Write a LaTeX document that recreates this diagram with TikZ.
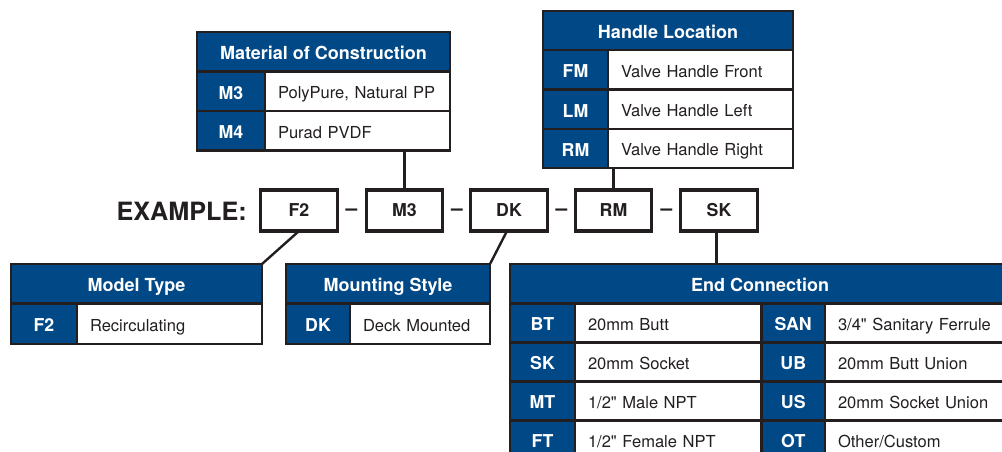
\documentclass[tikz,border=0pt]{standalone}
\usepackage{fontspec}
\setmainfont{TeX Gyre Heros}
\definecolor{nblue}{RGB}{0,72,134}
\definecolor{bord}{RGB}{35,31,32}
\tikzset{
 tbl/.style={draw=bord, line width=2pt, inner sep=0pt, outer sep=0pt},
 hdr/.style={tbl, fill=nblue, text=white, font=\bfseries\fontsize{13.5}{16}\selectfont, text height=11.7pt, text depth=0pt},
 code/.style={tbl, fill=nblue, text=white, font=\bfseries\fontsize{13.3}{16}\selectfont, text height=11.7pt, text depth=0pt},
 desc/.style={tbl, fill=white, text=bord, font=\fontsize{12.4}{15}\selectfont, text height=11pt, text depth=0pt, align=left},
 exbox/.style={draw=bord, line width=2.3pt, inner sep=0pt, outer sep=0pt, font=\bfseries\fontsize{13.3}{16}\selectfont, text=bord, text height=9.5pt, text depth=0pt, minimum width=57.5pt, minimum height=30.75pt},
 dashtxt/.style={inner sep=0pt, text=bord, font=\bfseries\fontsize{15.8}{18}\selectfont},
 conn/.style={draw=bord, line width=1.8pt},
}
\newcommand\tcell[7]{%
 \pgfmathsetlengthmacro\cw{(#4-#2)*0.75pt}%
 \pgfmathsetlengthmacro\ch{(#5-#3)*0.75pt}%
 \node[#6, minimum width=\cw, minimum height=\ch] (#1) at ({(#2+#4)/2},{(#3+#5)/2}) {#7};}
\newcommand\tdcell[6]{%
 \pgfmathsetlengthmacro\cw{(#4-#2)*0.75pt}%
 \pgfmathsetlengthmacro\ch{(#5-#3)*0.75pt}%
 \pgfmathsetlengthmacro\tw{(#4-#2-26)*0.75pt}%
 \node[desc, text width=\tw, inner xsep=9.75pt, minimum width=\cw, minimum height=\ch] (#1) at ({(#2+#4)/2},{(#3+#5)/2}) {#6};}
\begin{document}
\begin{tikzpicture}[x=0.75pt, y=-0.75pt]
\useasboundingbox (0,0) rectangle (1002,451);
\clip (0,0) rectangle (1002,451);

% Material of Construction
\tcell{matH}{197}{32}{450}{71.5}{hdr}{Material of Construction}
\tcell{matC1}{197}{71.5}{265}{111}{code}{M3}
\tdcell{matD1}{265}{71.5}{450}{111}{PolyPure, Natural PP}
\tcell{matC2}{197}{111}{265}{150.5}{code}{M4}
\tdcell{matD2}{265}{111}{450}{150.5}{Purad PVDF}

% Handle Location
\tcell{hlH}{543}{11}{793}{50}{hdr}{Handle Location}
\tcell{hlC1}{543}{50}{608}{89.5}{code}{FM}
\tdcell{hlD1}{608}{50}{793}{89.5}{Valve Handle Front}
\tcell{hlC2}{543}{89.5}{608}{129}{code}{LM}
\tdcell{hlD2}{608}{89.5}{793}{129}{Valve Handle Left}
\tcell{hlC3}{543}{129}{608}{168}{code}{RM}
\tdcell{hlD3}{608}{129}{793}{168}{Valve Handle Right}

% Model Type
\tcell{mtH}{11}{264}{262}{303.5}{hdr}{Model Type}
\tcell{mtC1}{11}{303.5}{77}{344}{code}{F2}
\tdcell{mtD1}{77}{303.5}{262}{344}{Recirculating}

% Mounting Style
\tcell{msH}{286}{264}{490}{303.5}{hdr}{Mounting Style}
\tcell{msC1}{286}{303.5}{350}{344}{code}{DK}
\tdcell{msD1}{350}{303.5}{490}{344}{Deck Mounted}

% End Connection
\tcell{ecH}{510}{264}{1010}{303.5}{hdr}{End Connection}
\tcell{ecC1}{510}{303.5}{575}{342.5}{code}{BT}
\tdcell{ecD1}{575}{303.5}{761.5}{342.5}{20mm Butt}
\tcell{ecC2}{510}{342.5}{575}{381.5}{code}{SK}
\tdcell{ecD2}{575}{342.5}{761.5}{381.5}{20mm Socket}
\tcell{ecC3}{510}{381.5}{575}{420.5}{code}{MT}
\tdcell{ecD3}{575}{381.5}{761.5}{420.5}{1/2\textquotedbl{} Male NPT}
\tcell{ecC4}{510}{420.5}{575}{459.5}{code}{FT}
\tdcell{ecD4}{575}{420.5}{761.5}{459.5}{1/2\textquotedbl{} Female NPT}
\tcell{ecC5}{761.5}{303.5}{825}{342.5}{code}{SAN}
\tdcell{ecD5}{825}{303.5}{1012}{342.5}{3/4\textquotedbl{} Sanitary Ferrule}
\tcell{ecC6}{761.5}{342.5}{825}{381.5}{code}{UB}
\tdcell{ecD6}{825}{342.5}{1012}{381.5}{20mm Butt Union}
\tcell{ecC7}{761.5}{381.5}{825}{420.5}{code}{US}
\tdcell{ecD7}{825}{381.5}{1012}{420.5}{20mm Socket Union}
\tcell{ecC8}{761.5}{420.5}{825}{459.5}{code}{OT}
\tdcell{ecD8}{825}{420.5}{1012}{459.5}{Other/Custom}

% Example row
\node[anchor=base east, inner sep=0pt, text=bord, font=\bfseries\fontsize{18.9}{22}\selectfont] (ex) at (247,220.7) {EXAMPLE:};
\node[exbox] (bF2) at (299,210.5) {F2};
\node[exbox] (bM3) at (404.5,210.5) {M3};
\node[exbox] (bDK) at (509,210.5) {DK};
\node[exbox] (bRM) at (613.5,210.5) {RM};
\node[exbox] (bSK) at (719,210.5) {SK};
\node[dashtxt, anchor=base] (d1) at (351.5,215) {–};
\node[dashtxt, anchor=base] (d2) at (457,215) {–};
\node[dashtxt, anchor=base] (d3) at (561.5,215) {–};
\node[dashtxt, anchor=base] (d4) at (666.5,215) {–};

% Connectors
\draw[conn] (bM3.north) -- (bM3.north |- matD2.south);
\draw[conn] (bRM.north) -- (bRM.north |- hlD3.south);
\draw[conn] ([xshift=-1.8pt]bSK.south) -- ([xshift=-1.8pt]bSK.south |- ecH.north);
\draw[conn] (bF2.south) -- (mtH.north east);
\draw[conn] ([xshift=-1.5pt]bDK.south) -- (msH.north east);
\end{tikzpicture}
\end{document}
